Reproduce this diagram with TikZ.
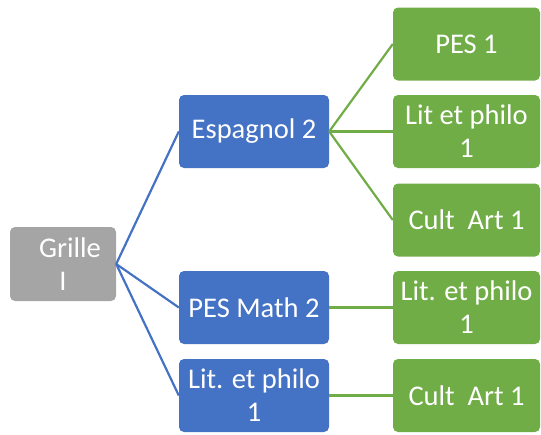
\documentclass[tikz,border=0pt]{standalone}
\usepackage{fontspec}
\setmainfont{Carlito}
\usetikzlibrary{positioning}
\definecolor{boxgray}{HTML}{A5A5A5}
\definecolor{boxblue}{HTML}{4472C4}
\definecolor{boxgreen}{HTML}{70AD47}

\begin{document}
\begin{tikzpicture}[x=1pt, y=-1pt,
    box/.style={rounded corners=5pt, text=white, align=center,
      font=\fontsize{28.5}{33}\selectfont, inner sep=0pt},
    grillebox/.style={box, fill=boxgray, minimum width=106pt, minimum height=74pt},
    bluebox/.style={box, fill=boxblue, minimum width=150pt, minimum height=73pt},
    greenbox/.style={box, fill=boxgreen, minimum width=147pt, minimum height=73pt},
    blueline/.style={boxblue, line width=2.2pt},
    greenline/.style={boxgreen, line width=2.2pt}]
  \useasboundingbox (0,0) rectangle (541,434);

  % Root
  \node[grillebox] (grille) at (63,264) {\hspace*{14pt}Grille\\I};

  % Second level
  \node[bluebox] (esp) at (254,131.5) {Espagnol 2};
  \node[bluebox] (pesmath) at (254,307.5) {PES Math 2};
  \node[bluebox] (litb) at (254,395.5) {Lit. et philo\\1};

  % Third level
  \foreach \n/\y/\t in {pes/44/{PES 1}, lit/131.5/{Lit et philo\\1},
      cult/220/{Cult\ \ Art 1}, litg/307.5/{Lit. et philo\\1},
      cultg/395.5/{Cult\ \ Art 1}} {
    \node[greenbox] (\n) at (466.5,\y) {\t};
  }

  % Connectors
  \foreach \b in {esp, pesmath, litb} {
    \draw[blueline] (grille.east) -- (\b.west);
  }
  \foreach \g in {pes, lit, cult} {
    \draw[greenline] (esp.east) -- (\g.west);
  }
  \draw[greenline] (pesmath.east) -- (litg.west);
  \draw[greenline] (litb.east) -- (cultg.west);
\end{tikzpicture}
\end{document}
